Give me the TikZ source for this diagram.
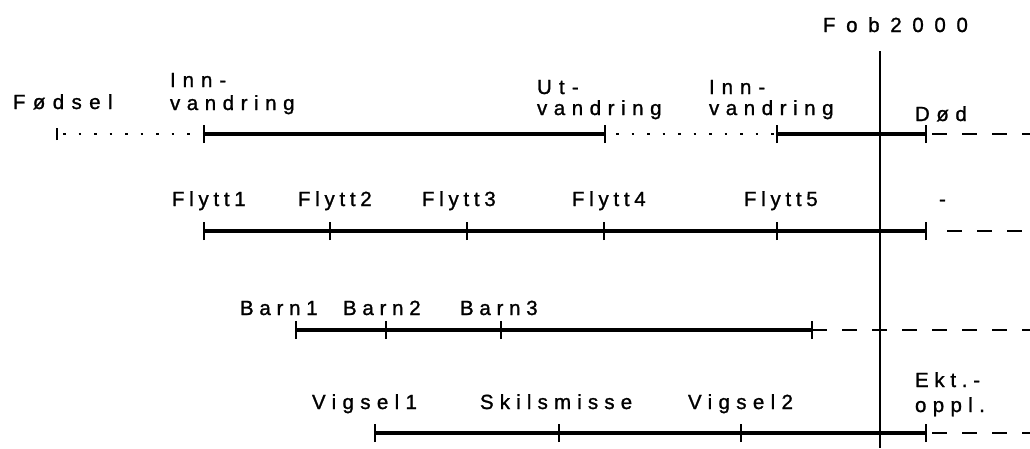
\documentclass[tikz,border=0pt]{standalone}
\usepackage{fontspec}
\setmainfont{Liberation Sans}
\begin{document}
\begin{tikzpicture}[x=1pt,y=-1pt,
  lbl/.style={anchor=base west,inner sep=0pt,outer sep=0pt,
    font=\fontsize{20.5}{23}\selectfont\addfontfeatures{LetterSpace=#1,FakeBold=1.2}},
  lbl/.default=30,
  solidseg/.style={line width=3.6pt},
  dottedseg/.style={line width=2.8pt,dash pattern=on 2.8pt off 12.7pt},
  dashedseg/.style={line width=2.6pt,dash pattern=on 15pt off 15pt},
  tickmark/.style={line width=1.5pt},
  fobline/.style={line width=1.8pt}]
\useasboundingbox (0,0) rectangle (1030,448);
% time axis marker
\coordinate (fobtop) at (880,51);
\coordinate (fobbot) at (880,448);
\draw[fobline] (fobtop) -- (fobbot);
\node[lbl=52] (fob) at (823,32) {Fob2000};

% Row 1
\foreach \n/\x in {a/57,b/204,c/605,d/777,e/926}{\coordinate (r1\n) at (\x,134);}
\coordinate (r1end) at (1030,134);
\coordinate (r1ds) at (932,134);
\draw[dottedseg] ([xshift=6pt]r1a) -- (r1b);
\draw[solidseg] (r1b) -- (r1c);
\draw[dottedseg] ([xshift=11pt]r1c) -- (r1d);
\draw[solidseg] (r1d) -- (r1e);
\draw[dashedseg] (r1ds) -- (r1end);
\draw[line width=1.2pt] ([yshift=-6pt]r1a) -- ([yshift=6pt]r1a);
\foreach \n in {b,c,d,e}{\draw[tickmark] ([yshift=-9pt]r1\n) -- ([yshift=9pt]r1\n);}
\node[lbl=36] (fodsel) at (13,109) {Fødsel};
\node[lbl=34] (inn1a) at (170,87) {Inn-};
\node[lbl=32] (inn1b) at (170,110) {vandring};
\node[lbl=35] (ut1a) at (537,94) {Ut-};
\node[lbl=32] (ut1b) at (537,115) {vandring};
\node[lbl=34] (inn2a) at (709,94) {Inn-};
\node[lbl=32] (inn2b) at (709,115) {vandring};
\node[lbl=32] (dod) at (915,121) {Død};

% Row 2
\foreach \n/\x in {a/204,b/330,c/467,d/604,e/777,f/926}{\coordinate (r2\n) at (\x,231);}
\coordinate (r2ds) at (947,231);
\coordinate (r2end) at (1030,231);
\draw[solidseg] (r2a) -- (r2f);
\draw[dashedseg] (r2ds) -- (r2end);
\foreach \n in {a,b,c,d,e,f}{\draw[tickmark] ([yshift=-9pt]r2\n) -- ([yshift=9pt]r2\n);}
\node[lbl=23] (f1) at (172,206) {Flytt1};
\node[lbl=23] (f2) at (298,206) {Flytt2};
\node[lbl=23] (f3) at (422,206) {Flytt3};
\node[lbl=23] (f4) at (572,206) {Flytt4};
\node[lbl=23] (f5) at (744,206) {Flytt5};
\node[lbl=23] (hy) at (939,206) {-};

% Row 3
\foreach \n/\x in {a/296,b/386,c/501,d/812}{\coordinate (r3\n) at (\x,330);}
\coordinate (r3end) at (1030,330);
\draw[solidseg] (r3a) -- (r3d);
\draw[dashedseg] (r3d) -- (r3end);
\foreach \n in {a,b,c,d}{\draw[tickmark] ([yshift=-9pt]r3\n) -- ([yshift=9pt]r3\n);}
\node[lbl=28] (b1) at (240,315) {Barn1};
\node[lbl=28] (b2) at (343,315) {Barn2};
\node[lbl=28] (b3) at (460,315) {Barn3};

% Row 4
\foreach \n/\x in {a/375,b/559,c/741,d/926}{\coordinate (r4\n) at (\x,433);}
\coordinate (r4ds) at (932,433);
\coordinate (r4end) at (1030,433);
\draw[solidseg] (r4a) -- (r4d);
\draw[dashedseg] (r4ds) -- (r4end);
\foreach \n in {a,b,c,d}{\draw[tickmark] ([yshift=-9pt]r4\n) -- ([yshift=9pt]r4\n);}
\node[lbl=31] (v1) at (312,409) {Vigsel1};
\node[lbl=30] (sk) at (480,409) {Skilsmisse};
\node[lbl=31] (v2) at (688,409) {Vigsel2};
\node[lbl=28] (ekt) at (915,387) {Ekt.-};
\node[lbl=31] (opp) at (915,412) {oppl.};
\end{tikzpicture}
\end{document}
